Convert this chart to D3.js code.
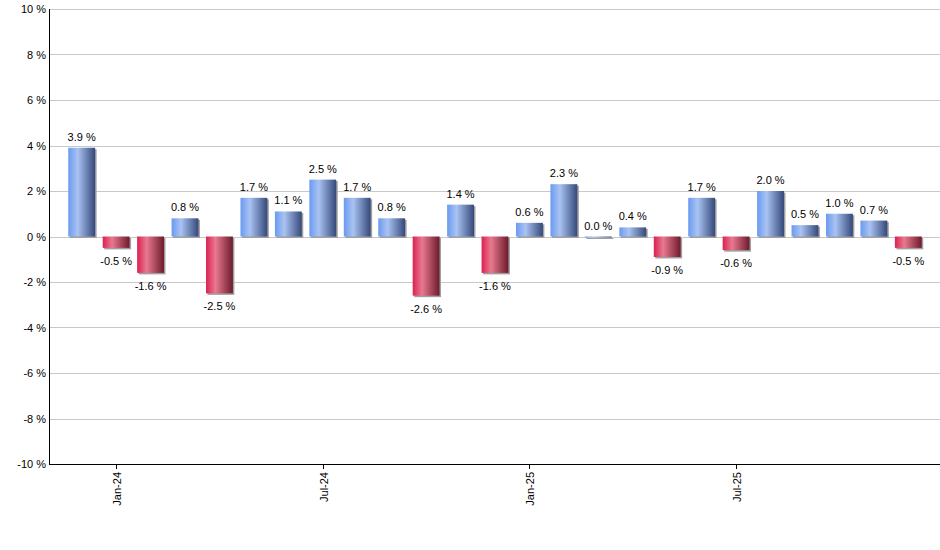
<!DOCTYPE html>
<html><head><meta charset="utf-8">
<script src="https://cdn.jsdelivr.net/npm/d3@7"></script>
<style>body{margin:0;background:#fff}svg{display:block}text{font-family:"Liberation Sans",Arial,sans-serif;font-size:11px;fill:#000}</style>
</head><body><svg id="c" width="940" height="550"></svg>
<script>
const months = ["Dec-23","Jan-24","Feb-24","Mar-24","Apr-24","May-24","Jun-24","Jul-24","Aug-24","Sep-24","Oct-24","Nov-24","Dec-24","Jan-25","Feb-25","Mar-25","Apr-25","May-25","Jun-25","Jul-25","Aug-25","Sep-25","Oct-25","Nov-25","Dec-25"];
const values = [3.9,-0.5,-1.6,0.8,-2.5,1.7,1.1,2.5,1.7,0.8,-2.6,1.4,-1.6,0.6,2.3,0.0,0.4,-0.9,1.7,-0.6,2.0,0.5,1.0,0.7,-0.5];
const xTickLabels = ["Jan-24","Jul-24","Jan-25","Jul-25"];
const yTicks = [-10,-8,-6,-4,-2,0,2,4,6,8,10];

const svg = d3.select("#c");
const L = 50, R = 940, T = 9, B = 464;
const x = d3.scaleBand().domain(months).range([L, R]).paddingInner(0.22).paddingOuter(0.53);
const y = d3.scaleLinear().domain([-10, 10]).range([B, T]);

const defs = svg.append("defs");
function grad(id, stops) {
  const g = defs.append("linearGradient").attr("id", id).attr("x1","0").attr("x2","1").attr("y1","0").attr("y2","0");
  stops.forEach(s => g.append("stop").attr("offset", s[0]).attr("stop-color", s[1]));
}
grad("gpos", [[0,"#6a9af0"],[0.35,"#a9c3f2"],[1,"#34497a"]]);
grad("gneg", [[0,"#dc2050"],[0.35,"#e87990"],[1,"#6e1a2c"]]);

// gridlines
svg.append("g").selectAll("line").data(yTicks).join("line")
  .attr("x1", L).attr("x2", R).attr("y1", d => Math.round(y(d)) + 0.5).attr("y2", d => Math.round(y(d)) + 0.5)
  .attr("stroke", "#c8c8c8").attr("stroke-width", 1);

// y labels
svg.append("g").selectAll("text").data(yTicks).join("text")
  .attr("x", L - 4).attr("y", d => y(d) + 4).attr("text-anchor", "end")
  .text(d => d + " %");

// bars shadow
const bw = x.bandwidth();
svg.append("g").selectAll("rect").data(values).join("rect")
  .attr("x", (d, i) => x(months[i]) + 1.5)
  .attr("y", d => Math.min(y(d), y(0)) + 1.5)
  .attr("width", bw)
  .attr("height", d => Math.max(1, Math.abs(y(d) - y(0))))
  .attr("fill", "#a0a0a0");
svg.append("g").selectAll("rect").data(values).join("rect")
  .attr("x", (d, i) => x(months[i]))
  .attr("y", d => Math.min(y(d), y(0)))
  .attr("width", bw)
  .attr("height", d => Math.max(1, Math.abs(y(d) - y(0))))
  .attr("fill", d => d < 0 ? "url(#gneg)" : "url(#gpos)");

// value labels
svg.append("g").selectAll("text").data(values).join("text")
  .attr("x", (d, i) => x(months[i]) + bw / 2)
  .attr("y", d => d < 0 ? y(d) + 17 : y(d) - 7)
  .attr("text-anchor", "middle")
  .text(d => d.toFixed(1) + " %");

// axes lines
svg.append("line").attr("x1", L - 0.5).attr("x2", L - 0.5).attr("y1", T).attr("y2", B + 1).attr("stroke", "#000");
svg.append("line").attr("x1", L - 1).attr("x2", R).attr("y1", B + 0.5).attr("y2", B + 0.5).attr("stroke", "#000");

// x ticks
const xt = svg.append("g").selectAll("g").data(xTickLabels).join("g")
  .attr("transform", d => `translate(${Math.round(x(d) + bw / 2) + 0.5},${B})`);
xt.append("line").attr("y1", 0).attr("y2", 5).attr("stroke", "#000");
xt.append("text").attr("transform", "rotate(-90)").attr("x", -8).attr("y", 4)
  .attr("text-anchor", "end").text(d => d);
</script></body></html>
